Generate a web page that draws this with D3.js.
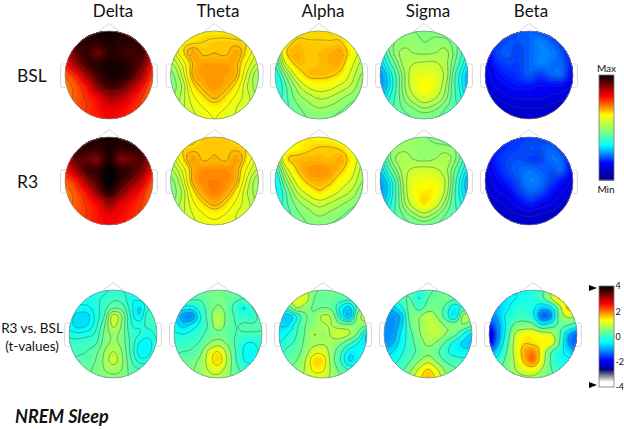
<!DOCTYPE html>
<html>
<head>
<meta charset="utf-8">
<script src="https://cdn.jsdelivr.net/npm/d3@7"></script>
<style>
body { margin: 0; background: #fff; }
text { font-family: Lato, sans-serif; fill: #111; }
</style>
</head>
<body>
<svg width="624" height="429"></svg>
<script>
// 数据: colour index 0-100, rows front to back
var bands = ['Delta', 'Theta', 'Alpha', 'Sigma', 'Beta']
var tickLabels = [4, 2, 0, -2, -4]

var deltaBsl = [
    90, 93, 97, 98, 99, 98, 97, 93, 90,
    88, 95, 97, 97, 98, 97, 97, 95, 88,
    84, 93, 96, 92, 97, 96, 95, 95, 86,
    79, 88, 95, 97, 98, 98, 96, 92, 80,
    73, 78, 88, 95, 98, 98, 95, 87, 75,
    70, 74, 80, 90, 95, 94, 88, 80, 72,
    70, 73, 77, 81, 87, 86, 81, 76, 71,
    72, 74, 76, 79, 82, 81, 78, 75, 72,
    74, 75, 77, 78, 80, 79, 78, 76, 74
]
var thetaBsl = [
    60, 62, 63, 63.5, 63.5, 63.5, 63, 62, 60,
    58, 63, 64, 64.5, 65, 65, 65, 64, 60,
    55, 63, 67.5, 65.5, 66, 65.5, 67.5, 63, 57,
    51, 58, 66, 68, 68, 68, 66.5, 60, 54,
    46, 55, 66.3, 68, 68.5, 68, 66.3, 57, 49,
    45, 52, 63, 67, 68.5, 67, 63, 55, 50,
    47, 53, 60, 64, 66.5, 64, 60, 56, 51,
    50, 54, 58, 61, 62.5, 61, 58, 56, 53,
    52, 55, 57, 59, 61, 59, 58, 56, 54
]
var alphaBsl = [
    60, 62, 63, 64, 64, 64, 62, 60, 56,
    54, 62, 65.5, 65, 65, 65, 65, 60, 56,
    46, 64, 67, 65.5, 66, 67, 67.5, 62, 55,
    39, 58, 66, 65.5, 66, 67, 66.5, 59, 52,
    34, 47, 60, 65.5, 66, 65.5, 63, 56, 49,
    32, 42, 52, 59, 61, 60, 57, 53, 46,
    34, 41, 48, 52, 55, 54, 51, 48, 44,
    37, 41, 45, 48, 50, 49, 47, 44, 42,
    38, 41, 44, 46, 46, 46, 44, 42, 40
]
var sigmaBsl = [
    44, 46, 47, 47, 46, 46, 45, 44, 42,
    40, 46, 48, 49, 47, 48, 48, 44, 40,
    34, 45, 51, 50, 49.5, 50, 51, 44, 36,
    30, 40, 50, 54, 55, 55, 51, 42, 32,
    25, 35, 47, 57, 59, 58, 52, 38, 29,
    25, 34, 47, 57, 62, 59, 50, 38, 29,
    29, 37, 46, 53, 58, 55, 48, 39, 32,
    33, 39, 44, 47, 50, 48, 44, 40, 36,
    36, 39, 42, 44, 44, 44, 42, 40, 38
]
var betaBsl = [
    14, 18, 20, 21, 22, 21, 19, 16, 13,
    14, 19, 21, 21, 22, 24, 22, 19, 15,
    14, 20, 21.5, 20, 22, 24, 24, 21, 16,
    13, 18, 20, 20, 22, 24, 23, 22, 17,
    12, 16, 18, 19, 21.5, 19.5, 22, 22, 15,
    11, 14, 16, 17, 17, 16, 16, 16, 13,
    9, 11, 13, 14, 14, 14, 13, 12, 10,
    8, 9, 10, 11, 11, 11, 10, 9, 8,
    7, 8, 9, 9, 10, 9, 8, 8, 7
]

var deltaR3 = [
    90, 94, 97, 98, 99, 98, 97, 94, 90,
    88, 95, 97, 96, 98, 96, 97, 95, 87,
    84, 93, 92, 91, 98, 91, 92, 94, 85,
    79, 87, 95, 96, 100, 97, 95, 90, 80,
    73, 78, 88, 95, 100, 96, 91, 84, 74,
    70, 74, 80, 90, 97, 91, 84, 78, 71,
    70, 73, 77, 81, 88, 83, 79, 76, 71,
    72, 74, 76, 79, 82, 80, 78, 75, 72,
    74, 76, 77, 79, 80, 79, 78, 76, 74
]
var thetaR3 = [
    61, 63, 64, 65, 65, 65, 64, 63, 60,
    58, 64, 65, 65.3, 65.5, 65.5, 65.3, 64, 60,
    55, 63, 68, 65.5, 66.5, 65.5, 68, 63, 57,
    51, 58, 66.5, 69, 69, 69, 67, 60, 54,
    46, 55, 66.5, 69.5, 70, 69.5, 66.5, 57, 49,
    45, 52, 63, 68, 70, 68, 63, 55, 50,
    47, 53, 60, 64.5, 67, 64.5, 60, 56, 51,
    50, 54, 58, 61, 62.5, 61, 58, 56, 53,
    52, 55, 57, 59, 60, 59, 58, 56, 54
]
var alphaR3 = [
    58, 60, 62, 63, 62, 62, 60, 58, 55,
    52, 60, 62, 64, 65, 65, 64, 60, 54,
    45, 63, 66, 66.5, 66.5, 66, 67, 62, 54,
    37, 55, 65, 68, 69, 68, 65.5, 60, 52,
    32, 48, 60, 66, 67, 66, 61, 57, 50,
    31, 42, 54, 60, 64, 61, 57, 53, 46,
    33, 41, 48, 53, 56, 54, 51, 48, 44,
    36, 40, 45, 48, 51, 49, 47, 44, 42,
    38, 41, 44, 46, 46, 46, 44, 42, 40
]
var sigmaR3 = [
    45, 48, 49, 49, 47.5, 46, 45, 43, 41,
    41, 47, 49, 49, 48.5, 48, 48, 46, 40,
    34, 47, 52, 50, 49, 50, 52, 46, 36,
    30, 42, 51, 55, 56, 55, 51, 42, 32,
    26, 35, 49, 59, 60, 60, 53, 39, 28,
    25, 34, 48, 60, 63, 62, 52, 38, 29,
    28, 36, 47, 57, 64, 58, 48, 39, 32,
    32, 38, 44, 49, 53, 49, 44, 40, 36,
    36, 39, 42, 44, 45, 44, 42, 40, 38
]
var betaR3 = [
    13, 16, 18, 19, 20, 20, 19, 16, 13,
    13, 17, 19, 20, 21, 21, 22, 19, 14,
    13, 18, 20, 21, 20, 20, 23, 22, 15,
    12, 17, 20, 22, 23, 22, 21, 22, 15,
    11, 15, 18, 21, 24, 23, 20, 17, 13,
    10, 13, 15, 19, 22, 21, 17, 14, 11,
    8, 10, 12, 15, 18, 16, 14, 11, 9,
    7, 9, 10, 11, 12, 11, 10, 9, 8,
    6, 7, 8, 9, 9, 9, 8, 7, 6
]

// t-values R3 vs. BSL
var deltaDiff = [
    -.2, -.2, -.2, -.2, -.2, -.1, -.15, -.2, -.2, -.2, -.2,
    -.25, -.25, -.25, -.2, -.1, .05, 0, -.3, -.3, -.2, -.15,
    -.35, -.4, -.4, -.25, 0, .3, .25, -.25, -.55, -.2, -.1,
    -.45, -.62, -.62, -.3, .1, .95, .6, -.15, -.5, 0, -.1,
    -.45, -.62, -.55, -.25, .3, .9, .55, -.1, -.2, -.1, 0,
    -.25, -.3, -.25, -.1, .4, .65, .5, 0, -.15, -.25, -.1,
    -.05, -.05, 0, .05, .45, .65, .5, .05, -.35, -.45, -.15,
    0, .05, .1, .25, .6, .85, .6, .05, -.42, -.42, -.1,
    .1, .15, .2, .35, .65, .95, .65, .15, -.25, -.25, -.05,
    .2, .2, .3, .4, .6, .7, .6, .25, .1, .05, .05,
    .2, .25, .3, .4, .5, .55, .5, .3, .2, .15, .1
]
var thetaDiff = [
    .2, .25, .3, .4, .45, .45, .4, .3, .35, .5, .6,
    .1, .2, .15, .15, .35, .45, .35, .2, .1, .35, .6,
    -.2, -.4, -.4, -.1, .3, .55, .35, -.05, -.3, .15, .55,
    -.5, -1, -1.1, -.3, .3, .85, .4, .05, -.1, -.1, .4,
    -.4, -.7, -.5, -.2, .2, .8, .35, .1, .15, .15, .2,
    -.25, -.3, -.2, 0, .25, .35, .3, .1, .05, .05, .05,
    -.1, -.05, 0, .15, .5, .7, .45, .05, -.25, -.3, -.1,
    .05, .1, .15, .4, 1, 1.3, .8, .1, -.35, -.42, -.2,
    .2, .25, .35, .6, 1.1, 1.5, .9, .15, -.3, -.38, -.15,
    .35, .35, .45, .65, .95, 1.1, .75, .25, -.05, -.1, 0,
    .45, .5, .5, .65, .8, .8, .6, .35, .2, .15, .1
]
var alphaDiff = [
    .3, .5, .8, .9, .5, .35, .35, .3, .35, .5, .6,
    .2, .7, 1.1, 1, .4, .3, .35, .2, .1, .5, .7,
    -.2, .1, .8, .6, .35, .4, .3, -.35, -.65, .2, .7,
    -.6, -.75, -.3, .35, .5, .85, .7, -.25, -.75, .6, 1,
    -.6, -.6, -.1, .4, .55, .75, .8, .55, .5, .6, .5,
    -.5, -.3, 0, .45, .8, .65, .85, 1, .8, .3, -.6,
    -.3, -.1, .1, .5, .7, .75, .7, .5, .1, -.3, -.6,
    -.1, .1, .25, .6, 1.05, 1.05, .6, .1, -.45, -.4, -.3,
    .1, .25, .4, .8, 1.45, 1.4, .6, 0, -.6, -.4, -.1,
    .3, .4, .55, .85, 1.3, 1.25, .7, .25, -.05, 0, .1,
    .5, .55, .65, .85, 1, 1, .7, .5, .35, .3, .3
]
var sigmaDiff = [
    -.25, -.15, .1, .15, -.1, .1, .25, .3, .2, .2, .2,
    -.5, -.25, .1, .2, -.2, .2, .35, .4, .25, .3, .35,
    -.9, -.75, -.25, .35, .05, .4, .4, .1, -.45, 0, .4,
    -1, -1.05, -.75, .4, .55, .85, .6, .05, -.5, .7, .6,
    -1.05, -1.1, -.65, .25, .6, .85, .85, .55, .5, .55, .3,
    -1.15, -1.05, -.5, .1, .55, .85, .9, .6, .35, -.2, -.65,
    -1.05, -.9, -.4, .05, .4, .7, .55, .15, -.3, -.65, -.8,
    -.75, -.6, -.25, .05, .3, .5, .3, -.1, -.35, -.45, -.45,
    -.45, -.35, -.1, .2, .55, .85, .5, .15, 0, -.1, -.1,
    -.2, -.1, .1, .5, 1.05, 1.4, 1.05, .5, .25, .1, .1,
    0, .1, .3, .8, 1.3, 1.6, 1.3, .7, .4, .2, .1
]
var betaDiff = [
    -.6, -.6, -.5, -.4, -.3, -.2, .1, .8, 1.4, 1, .6,
    -.8, -.7, -.55, -.4, -.3, -.2, .05, .7, 1.5, 1.2, .8,
    -1, -.8, -.5, -.2, -.15, -.3, -.75, -.55, .6, 1.6, 1.3,
    -1.2, -.9, -.3, -.1, 0, -.3, -1.3, -1.1, .4, .9, .8,
    -1.7, -1.1, -.3, .35, .45, .35, -.3, -.1, .3, .2, -.1,
    -2.3, -1.2, -.2, .85, 1.2, 1.25, 1.05, .9, .3, -.8, -1.3,
    -2.1, -1.05, 0, 1, 1.45, 1.4, 1.3, 1.2, .2, -1, -1.4,
    -1.2, -.6, .2, 1, 1.7, 1.9, 1.25, .3, -.2, -.6, -1,
    -.6, -.2, .35, .9, 1.6, 2, 1.15, .2, -.3, -.3, -.4,
    -.2, .1, .45, .8, 1.15, 1.25, .8, .25, -.05, -.1, -.1,
    .1, .2, .4, .6, .7, .7, .5, .3, .2, .1, .1
]

// contour levels per band
var powerLevels = [
    [72, 76, 80, 85, 91],
    [48, 52, 55, 58, 61, 64.5, 66],
    [38, 42, 46, 50, 54, 58, 64.8],
    [30, 33, 36, 40, 44, 47, 50, 54],
    [9, 11, 13.5, 16, 20.7]
]
var diffLevels = [
    [-.55, -.35, -.15, .1, .35, .6, .85],
    [-.9, -.6, -.3, .1, .5, .9, 1.3],
    [-.6, -.3, 0, .4, .8, 1.2],
    [-.9, -.6, -.2, .2, .6, 1, 1.4],
    [-1.6, -1, -.4, .2, .8, 1.5]
]

// electrode dots, head units
var electrodes = [
    [-.62, -.57], [-.5, -.55], [-.7, -.45], [-.55, -.45],
    [.62, -.57], [.5, -.55], [.7, -.45], [.55, -.45],
    [0, 0], [0, .5], [0, -.5]
]

var powerColor = d3.scaleLinear()
    .domain([0, 2, 16, 24, 33, 46, 62, 70, 80, 90, 100])
    .range(['#00007f', '#00008f', '#0000ff', '#0080ff', '#00ffff', '#80ff80', '#ffff00', '#ff8000', '#ff0000', '#800000', '#000000'])

var diffColor = d3.scaleLinear()
    .domain([-4, -3.6, -3.2, -2.6, -2.4, -1.9, -1.2, -.44, .5, 1.28, 1.94, 2.6, 3.26, 4])
    .range(['#ffffff', '#ffffff', '#999999', '#00007f', '#0000c0', '#0000ff', '#0080ff', '#00ffff', '#80ff80', '#ffff00', '#ff8000', '#ff0000', '#800000', '#000000'])

var svg = d3.select('svg')
var clipCount = 0

// resample the read grid finer so the filled bands render smooth
function resample(grid, factor) {
    var n = Math.sqrt(grid.length)
    var m = (n - 1) * factor + 1
    function at(i, j) {
        i = Math.max(0, Math.min(n - 1, i))
        j = Math.max(0, Math.min(n - 1, j))
        return grid[j * n + i]
    }
    function cubic(a, b, c, d, t) {
        return b + 0.5 * t * (c - a + t * (2 * a - 5 * b + 4 * c - d + t * (3 * (b - c) + d - a)))
    }
    var out = new Array(m * m)
    for (var j = 0; j < m; j++) {
        var gy = j / factor, j0 = Math.floor(gy), ty = gy - j0
        for (var i = 0; i < m; i++) {
            var gx = i / factor, i0 = Math.floor(gx), tx = gx - i0
            var col = [-1, 0, 1, 2].map(function (dj) {
                return cubic(at(i0 - 1, j0 + dj), at(i0, j0 + dj), at(i0 + 1, j0 + dj), at(i0 + 2, j0 + dj), tx)
            })
            out[j * m + i] = cubic(col[0], col[1], col[2], col[3], ty)
        }
    }
    return { values: out, size: m }
}

function drawHead(grid, levels, color, bandStep, cx, cy, r) {
    var x = d3.scaleLinear().domain([-1, 1]).range([cx - r, cx + r])
    var y = d3.scaleLinear().domain([-1, 1]).range([cy - r, cy + r])
    var fine = resample(grid, 8)
    var gx = d3.scaleLinear().domain([0.5, fine.size - 0.5]).range([cx - r, cx + r])
    var gy = d3.scaleLinear().domain([0.5, fine.size - 0.5]).range([cy - r, cy + r])
    var path = d3.geoPath(d3.geoTransform({
        point: function (a, b) { this.stream.point(gx(a), gy(b)) }
    }))
    var contours = d3.contours().size([fine.size, fine.size])
    var g = svg.append('g')

    // nose and ears
    var outline = g.append('g').attr('fill', 'none').attr('stroke', '#d2d2d2').attr('stroke-width', 0.9)
    outline.append('path').attr('d', d3.line()([[x(-.28), y(-.96)], [x(0), y(-1.17)], [x(.28), y(-.96)]]))
    ;[-1, 1].forEach(function (s) {
        var a = d3.path(), e0 = x(s * .98), e1 = x(s * 1.1)
        a.moveTo(e0, y(-.25))
        a.lineTo(e1 - s * 1.5, y(-.25))
        a.quadraticCurveTo(e1, y(-.25), e1, y(-.2))
        a.lineTo(e1, y(.22))
        a.quadraticCurveTo(e1, y(.28), e1 - s * 1.5, y(.28))
        a.lineTo(e0, y(.28))
        outline.append('path').attr('d', a.toString())
    })

    var id = 'clip' + (clipCount++)
    g.append('clipPath').attr('id', id).append('circle').attr('cx', cx).attr('cy', cy).attr('r', r)
    var inner = g.append('g').attr('clip-path', 'url(#' + id + ')')

    var lo = d3.min(fine.values), hi = d3.max(fine.values)
    inner.append('rect').attr('x', cx - r).attr('y', cy - r).attr('width', 2 * r).attr('height', 2 * r)
        .attr('fill', color(lo))
    inner.selectAll('path.band')
        .data(contours.thresholds(d3.range(lo, hi, bandStep))(fine.values))
        .enter().append('path')
        .attr('class', 'band')
        .attr('d', path)
        .attr('fill', function (d) { return color(d.value + bandStep / 2) })
    inner.selectAll('path.line')
        .data(contours.thresholds(levels)(fine.values))
        .enter().append('path')
        .attr('class', 'line')
        .attr('d', path)
        .attr('fill', 'none')
        .attr('stroke', '#444444')
        .attr('stroke-opacity', 0.7)
        .attr('stroke-width', 0.6)
    inner.selectAll('circle')
        .data(electrodes)
        .enter().append('circle')
        .attr('cx', function (d) { return x(d[0]) })
        .attr('cy', function (d) { return y(d[1]) })
        .attr('r', 0.45)
        .attr('fill', '#222')
        .attr('fill-opacity', 0.5)

    g.append('circle').attr('cx', cx).attr('cy', cy).attr('r', r)
        .attr('fill', 'none').attr('stroke', '#8a8a8a').attr('stroke-width', 0.7)
}

var topX = [109, 214.5, 319, 424, 529]
var diffX = [113, 218, 323, 428, 533]
var rowBsl = [deltaBsl, thetaBsl, alphaBsl, sigmaBsl, betaBsl]
var rowR3 = [deltaR3, thetaR3, alphaR3, sigmaR3, betaR3]
var rowDiff = [deltaDiff, thetaDiff, alphaDiff, sigmaDiff, betaDiff]

bands.forEach(function (name, i) {
    drawHead(rowBsl[i], powerLevels[i], powerColor, 1, topX[i], 75, 44)
    drawHead(rowR3[i], powerLevels[i], powerColor, 1, topX[i], 181, 44)
    drawHead(rowDiff[i], diffLevels[i], diffColor, 0.08, diffX[i], 334, 44)
})

// titles and row labels
svg.selectAll('text.band').data(bands).enter().append('text')
    .attr('class', 'band')
    .attr('x', function (d, i) { return diffX[i] + (i === 4 ? -2 : 0) })
    .attr('y', 17)
    .attr('text-anchor', 'middle')
    .attr('font-size', 17)
    .text(function (d) { return d })

svg.append('text').attr('x', 17).attr('y', 82).attr('font-size', 17.5).text('BSL')
svg.append('text').attr('x', 17).attr('y', 188).attr('font-size', 17.5).text('R3')
svg.append('text').attr('x', 32).attr('y', 333).attr('text-anchor', 'middle').attr('font-size', 13.5).text('R3 vs. BSL')
svg.append('text').attr('x', 32).attr('y', 351).attr('text-anchor', 'middle').attr('font-size', 13.5).text('(t-values)')
svg.append('text').attr('x', 15).attr('y', 423).attr('font-size', 18)
    .attr('font-weight', 'bold').attr('font-style', 'italic').text('NREM Sleep')

// colour bars
function drawBar(color, domain, top, bottom) {
    var bar = d3.scaleLinear().domain(domain).range([bottom, top])
    var g = svg.append('g')
    g.selectAll('rect').data(d3.range(top, bottom, 0.5)).enter().append('rect')
        .attr('x', 599).attr('width', 15)
        .attr('y', function (d) { return d })
        .attr('height', 1)
        .attr('fill', function (d) { return color(bar.invert(d + 0.25)) })
    g.append('rect').attr('x', 599).attr('y', top).attr('width', 15).attr('height', bottom - top)
        .attr('fill', 'none').attr('stroke', '#777').attr('stroke-width', 0.8)
    return bar
}

drawBar(powerColor, [0, 100], 75, 180)
svg.append('text').attr('x', 606.5).attr('y', 72).attr('text-anchor', 'middle').attr('font-size', 10).text('Max')
svg.append('text').attr('x', 606).attr('y', 193).attr('text-anchor', 'middle').attr('font-size', 10).text('Min')

var tBar = drawBar(diffColor, [-4, 4], 286, 387)
var tAxis = svg.append('g')
    .attr('transform', 'translate(613.5,0)')
    .call(d3.axisRight(tBar).tickValues(tickLabels).tickSize(0).tickPadding(2).tickFormat(function (d) { return String(d) }))
tAxis.select('.domain').remove()
tAxis.selectAll('text').attr('font-size', 9).style('font-family', 'Lato, sans-serif').attr('fill', '#111')

// arrow markers at the clipped ends of the bar
svg.selectAll('path.arrow').data([3.85, -3.85]).enter().append('path')
    .attr('class', 'arrow')
    .attr('d', function (d) { return d3.line()([[589, tBar(d) - 3], [597, tBar(d)], [589, tBar(d) + 3]]) + 'Z' })
    .attr('fill', '#000')
</script>
</body>
</html>
